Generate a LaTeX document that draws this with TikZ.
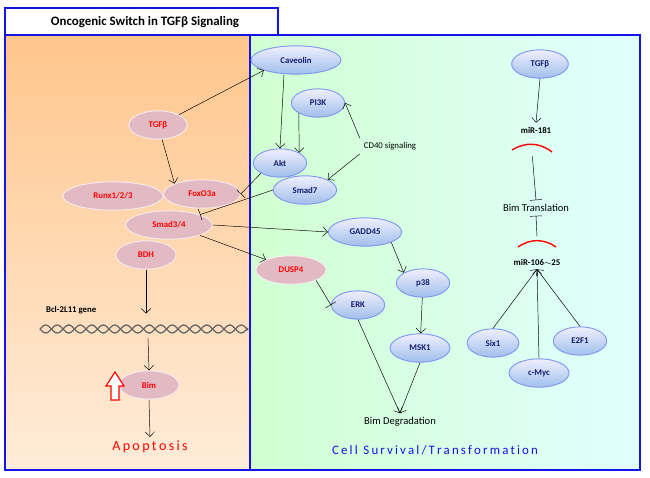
\documentclass[tikz,border=0pt]{standalone}
\usepackage{fontspec}
\setmainfont{Carlito}
\usetikzlibrary{positioning,shapes.geometric,arrows.meta,decorations.pathmorphing}
\definecolor{nodepink}{RGB}{226,186,196}
\definecolor{nodeblue}{RGB}{160,190,235}
\definecolor{panelblue}{RGB}{20,20,230}
\definecolor{txtblue}{RGB}{20,30,110}
\begin{document}
\begin{tikzpicture}[x=0.03cm,y=-0.03cm,font=\bfseries\fontsize{7.5}{9}\selectfont,
  >={Straight Barb[length=4pt]},
  pinknode/.style={ellipse,draw=white!70!nodepink,line width=0.8pt,fill=nodepink,text=red,minimum height=0.85cm,inner sep=1pt},
  bluenode/.style={ellipse,draw=nodeblue!80!blue,line width=0.8pt,top color=blue!6,bottom color=nodeblue,text=txtblue,minimum height=0.85cm,inner sep=1pt},
  act/.style={->,thin},
  inh/.style={-{Bar[width=10pt]},thin},
  mirarc/.style={red,line width=1.2pt}]

\useasboundingbox (0,0) rectangle (650,477);
% panels
\shade[top color=orange!45,bottom color=orange!15] (5,35) rectangle (250,470);
\shade[left color=green!18,right color=cyan!12] (250,35) rectangle (640,470);
\draw[panelblue,line width=1.2pt] (5,35) rectangle (640,470);
\draw[panelblue,line width=1.2pt] (250,35) -- (250,470);
\draw[panelblue,line width=1.2pt,fill=white] (5,8) rectangle (278,35);
\node[font=\bfseries\fontsize{11}{13}\selectfont] (title) at (145,22) {Oncogenic Switch in TGFβ Signaling};

% left side
\node[pinknode,minimum width=1.75cm] (tgfL) at (158,125) {TGFβ};
\node[pinknode,minimum width=3cm] (runx) at (113,196) {Runx1/2/3};
\node[pinknode,minimum width=2.3cm] (foxo) at (202,194) {FoxO3a};
\node[pinknode,minimum width=2.6cm] (smad34) at (169,225) {Smad3/4};
\node[pinknode,minimum width=1.8cm] (bdh) at (146,255) {BDH};
\node[anchor=west] (gene) at (42,310) {Bcl-2L11 gene};
\coordinate (dnaL) at (40,329);
\coordinate (dnaR) at (248,329);
\foreach \s in {1,-1}
  \draw[gray!80!black,line width=1.1pt,domain=0:208,samples=120,smooth] plot ({\x+40},{329+\s*4*sin(15.65*\x)});
\node[pinknode,minimum width=1.8cm] (bimL) at (149,385) {Bim};
\draw[red,line width=1pt,fill=white] (111,400) -- (111,386) -- (106,386) -- (115,372) -- (124,386) -- (119,386) -- (119,400) -- cycle;
\node[text=red,font=\fontsize{12}{14}\selectfont] (apop) at (150,447) {A\,p\,o\,p\,t\,o\,s\,i\,s};
\node[pinknode,minimum width=2.1cm] (dusp) at (291,270) {DUSP4};

% right side
\node[bluenode,minimum width=2.7cm] (cav) at (296,60) {Caveolin};
\node[bluenode,minimum width=1.6cm] (pi3k) at (318,103) {PI3K};
\node[bluenode,minimum width=1.6cm] (akt) at (280,163) {Akt};
\node[bluenode,minimum width=1.9cm] (smad7) at (305,190) {Smad7};
\node[font=\fontsize{7.5}{9}\selectfont] (cd40) at (390,146) {CD40 signaling};
\node[bluenode,minimum width=2.2cm] (gadd) at (365,232) {GADD45};
\node[bluenode,minimum width=1.6cm] (p38) at (423,283) {p38};
\node[bluenode,minimum width=1.6cm] (erk) at (358,305) {ERK};
\node[bluenode,minimum width=1.8cm] (msk) at (420,348) {MSK1};
\node[font=\fontsize{9}{11}\selectfont] (bimdeg) at (400,422) {Bim Degradation};
\node[bluenode,minimum width=1.7cm] (tgfR) at (540,64) {TGFβ};
\node (mir181) at (536,130) {miR-181};
\draw[mirarc] (512,150) to[bend left=35] coordinate[pos=0.5] (arc181) (552,152);
\node[font=\fontsize{9}{11}\selectfont] (bimtr) at (536,208) {Bim Translation};
\node (mir106) at (537,262) {miR-106$\sim$25};
\draw[mirarc] (518,247) to[bend left=35] coordinate[pos=0.5] (arc106) (556,247);
\node[bluenode,minimum width=1.55cm] (six) at (493,343) {Six1};
\node[bluenode,minimum width=1.6cm] (e2f) at (580,341) {E2F1};
\node[bluenode,minimum width=1.8cm] (myc) at (539,373) {c-Myc};
\node[text=panelblue,font=\fontsize{11}{13}\selectfont\mdseries] (surv) at (435,450) {C\,e\,l\,l\;\,S\,u\,r\,v\,i\,v\,a\,l\,/\,T\,r\,a\,n\,s\,f\,o\,r\,m\,a\,t\,i\,o\,n};

% connectors
\draw[act] (tgfL.north east) -- (cav.south west);
\draw[act] (tgfL) -- (foxo.north west);
\draw[act] (cav.south) ++(-12,0) coordinate (cavb) -- (akt.north);
\draw[act] (pi3k.south west) -- (akt.north east);
\draw[act] (cd40.north west) -- (pi3k.east);
\draw[act] (cd40.south west) -- (smad7.north east);
\draw[inh] (akt.south west) -- (foxo.east);
\draw[inh] (smad7.west) -- (smad34.north east);
\draw[act] (smad34.east) -- (gadd.west);
\draw[act] (smad34.south east) -- (dusp.north west);
\draw[act] (gadd.south east) -- (p38.north west);
\draw[act] (p38) -- (msk);
\draw[inh] (dusp.south east) -- (erk.west);
\draw[act] (erk.south) -- (bimdeg.north);
\draw[act] (msk.south) -- (bimdeg.north);
\draw[act] (bdh.south) -- ++(0,44);
\draw[act] (148,338) -- (bimL.north);
\draw[act] (bimL.south) -- (apop.north);
\draw[act] (tgfR.south) -- (mir181.north);
\draw[inh] (arc181) ++(0,12) -- (bimtr.north);
\draw[inh] (arc106) ++(0,-4) -- (bimtr.south);
\draw[act] (six.north) -- (mir106.south);
\draw[act] (myc.north) -- (mir106.south);
\draw[act] (e2f.north) -- (mir106.south);
\end{tikzpicture}
\end{document}
